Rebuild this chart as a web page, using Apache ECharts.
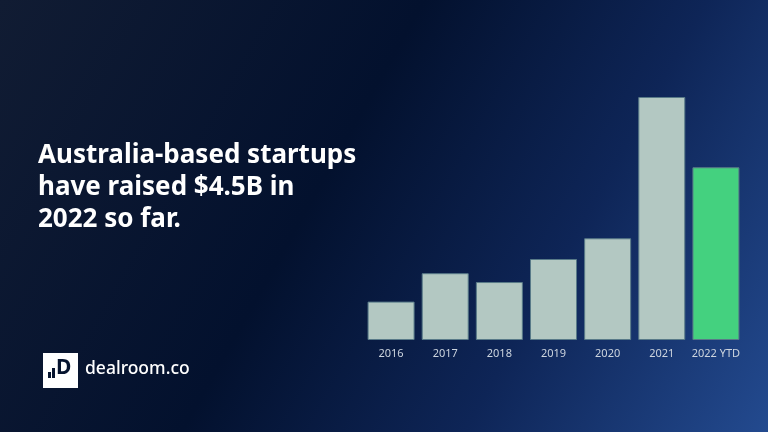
<!DOCTYPE html>
<html>
<head>
<meta charset="utf-8">
<script src="https://cdn.jsdelivr.net/npm/echarts@6/dist/echarts.min.js"></script>
<style>
html, body { margin: 0; padding: 0; }
#chartmain { width: 768px; height: 432px; }
</style>
</head>
<body>
<div id="chartmain"></div>
<script>
// funding per year, $B
var years = ['2016', '2017', '2018', '2019', '2020', '2021', '2022 YTD'];
var funding = [1.0, 1.74, 1.51, 2.11, 2.65, 6.33, 4.5];
var highlight = '2022 YTD';

var titleLines = ['Australia-based startups', 'have raised $4.5B in', '2022 so far.'];

var barData = [];
for (var i = 0; i < years.length; i++) {
	barData.push({
		value : funding[i],
		itemStyle : {
			color : years[i] === highlight ? '#44d17f' : '#b3c8c2'
		}
	});
}

var option = {
	backgroundColor : {
		type : 'linear',
		x : 0, y : 0, x2 : 1, y2 : 1,
		colorStops : [
			{ offset : 0, color : '#111c33' },
			{ offset : 0.42, color : '#03112e' },
			{ offset : 0.7, color : '#0e2557' },
			{ offset : 1, color : '#234a8f' }
		]
	},
	grid : {
		left : 364,
		right : 25,
		top : 97,
		bottom : 92
	},
	xAxis : {
		type : 'category',
		data : years,
		axisLine : { show : false },
		axisTick : { show : false },
		axisLabel : {
			interval : 0,
			color : '#ccd4de',
			fontSize : 11,
			fontFamily : 'Noto Sans',
			margin : 8
		}
	},
	yAxis : {
		type : 'value',
		min : 0,
		max : 6.33,
		show : false
	},
	series : [ {
		type : 'bar',
		data : barData,
		barWidth : 47,
		itemStyle : {
			borderColor : '#587a88',
			borderWidth : 1
		}
	} ],
	graphic : [
		{
			type : 'text',
			left : 38,
			top : 140,
			style : {
				text : titleLines.join('\n'),
				fill : '#ffffff',
				font : 'bold 26px "Noto Sans"',
				lineHeight : 32
			}
		},
		{
			type : 'group',
			left : 43,
			top : 353,
			children : [
				{ type : 'rect', shape : { x : 0, y : 0, width : 35, height : 35 }, style : { fill : '#ffffff' } },
				{ type : 'rect', shape : { x : 5, y : 19, width : 3, height : 6 }, style : { fill : '#06142f' } },
				{ type : 'rect', shape : { x : 9, y : 15, width : 3, height : 10 }, style : { fill : '#06142f' } },
				{ type : 'text', style : { x : 13, y : 5, text : 'D', fill : '#06142f', font : 'bold 21px "Noto Sans"' } }
			]
		},
		{
			type : 'text',
			left : 85,
			top : 360,
			style : {
				text : 'dealroom.co',
				fill : '#ffffff',
				font : '500 17.5px "Noto Sans"'
			}
		}
	]
};

var myChart = echarts.init(document.getElementById('chartmain'));
myChart.setOption(option);
</script>
</body>
</html>
